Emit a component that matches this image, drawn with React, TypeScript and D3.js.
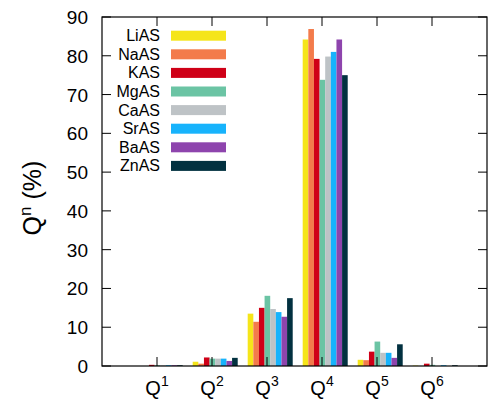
import React from "react";
import * as d3 from "d3";

const categories = ["1", "2", "3", "4", "5", "6"];
const seriesNames = ["LiAS", "NaAS", "KAS", "MgAS", "CaAS", "SrAS", "BaAS", "ZnAS"];
const seriesColors = ["#f5e51a", "#f37b4b", "#cf0017", "#6bc4a4", "#bec3c6", "#17b3fc", "#8e44ad", "#023140"];
const LiAS = [0, 1.1, 13.5, 84.2, 1.6, 0.1];
const NaAS = [0, 0.6, 11.4, 86.9, 1.5, 0];
const KAS = [0.3, 2.2, 15.0, 79.2, 3.7, 0.6];
const MgAS = [0.2, 1.9, 18.1, 73.8, 6.3, 0.3];
const CaAS = [0.2, 1.9, 14.7, 79.8, 3.4, 0];
const SrAS = [0.2, 1.9, 13.9, 81.0, 3.4, 0.2];
const BaAS = [0.2, 1.3, 12.7, 84.2, 2.1, 0];
const ZnAS = [0.2, 2.1, 17.5, 75.0, 5.6, 0.2];
const yTicks = [0, 10, 20, 30, 40, 50, 60, 70, 80, 90];

const seriesValues = [LiAS, NaAS, KAS, MgAS, CaAS, SrAS, BaAS, ZnAS];

const W = 488;
const H = 401;
const L = 102, R = 487, T = 17, B = 366;
const FONT = "'Liberation Sans', Arial, Helvetica, sans-serif";

export default function App() {
  const x = d3.scaleLinear().domain([0, 7]).range([L, R]);
  const y = d3.scaleLinear().domain([0, 90]).range([B, T]);
  const barW = 0.1023;
  const clusterOffset = -0.351;
  const tickLen = 9;

  return (
    <svg width={W} height={H} style={{ position: "absolute", left: 0, top: 0, background: "#fff" }} fontFamily={FONT}>
      {/* bars */}
      {seriesValues.map((vals, j) =>
        vals.map((v, i) => {
          const x0 = x(i + 1 + clusterOffset + j * barW);
          const x1 = x(i + 1 + clusterOffset + (j + 1) * barW);
          return (
            <rect key={`${j}-${i}`} x={x0} y={y(v)} width={x1 - x0} height={y(0) - y(v)} fill={seriesColors[j]} />
          );
        })
      )}
      {/* frame */}
      <rect x={L} y={T} width={R - L} height={B - T} fill="none" stroke="#000" strokeWidth={1.2} />
      {/* y ticks */}
      {yTicks.map((t) => (
        <g key={t}>
          <line x1={L} x2={L + tickLen} y1={y(t)} y2={y(t)} stroke="#000" strokeWidth={1} />
          <line x1={R} x2={R - tickLen} y1={y(t)} y2={y(t)} stroke="#000" strokeWidth={1} />
          <text x={88} y={y(t) + 7} textAnchor="end" fontSize={19}>{t}</text>
        </g>
      ))}
      {/* x ticks */}
      {categories.map((c, i) => (
        <g key={c}>
          <line x1={x(i + 1)} x2={x(i + 1)} y1={B} y2={B - tickLen} stroke="#000" strokeWidth={1} />
          <line x1={x(i + 1)} x2={x(i + 1)} y1={T} y2={T + tickLen} stroke="#000" strokeWidth={1} />
          <text x={x(i + 1)} y={395} textAnchor="middle" fontSize={20}>
            Q<tspan fontSize={14} dy={-9}>{c}</tspan>
          </text>
        </g>
      ))}
      {/* y title */}
      <text transform={`translate(41,198) rotate(-90)`} textAnchor="middle" fontSize={25}>
        Q<tspan fontSize={17} dy={-10}>n</tspan><tspan dy={10}> (%)</tspan>
      </text>
      {/* legend */}
      {seriesNames.map((n, j) => {
        const cy = 35.7 + j * 18.6;
        return (
          <g key={n}>
            <text x={160} y={cy + 5.5} textAnchor="end" fontSize={16}>{n}</text>
            <rect x={171} y={cy - 5} width={55} height={10} fill={seriesColors[j]} />
          </g>
        );
      })}
    </svg>
  );
}
